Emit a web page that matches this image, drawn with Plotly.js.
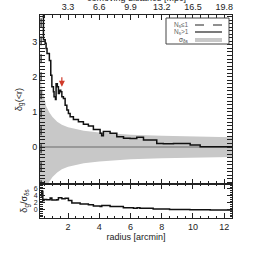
<!DOCTYPE html>
<html><head><meta charset="utf-8">
<script src="https://cdn.plot.ly/plotly-3.0.1.min.js"></script>
<style>body{margin:0;padding:0;background:#fff}#c{width:258px;height:258px}</style>
</head><body><div id="c"></div>
<script>
// main panel: delta_g(<r), N_s>1
const rMain = [0.40,0.42,0.53,0.59,0.65,0.78,0.80,0.89,0.96,1.06,1.10,1.19,1.23,1.31,1.38,1.44,1.53,1.60,1.70,1.81,1.92,2.02,2.13,2.34,2.66,2.98,3.30,3.62,4.05,4.15,4.26,4.69,5.12,5.55,5.97,6.40,6.83,7.68,8.10,8.75,9.18,9.82,10.46,11.10,11.95,12.50];
const dMain = [4.30,3.05,2.95,2.80,2.66,2.66,2.46,2.04,1.71,1.57,1.43,1.35,1.80,1.71,1.52,1.61,1.57,1.43,1.38,1.19,1.05,0.95,0.86,0.78,0.72,0.65,0.60,0.50,0.39,0.32,0.44,0.39,0.29,0.25,0.24,0.28,0.20,0.10,0.09,0.10,0.10,0.06,0.01,0.01,0.01,-0.01];
// N_s<=1 (dashed)
const rLow = [0.27,0.27];
const dLow = [-1.2,4.0];
// sigma band
const rSig = [0.20,0.30,0.40,0.50,0.60,0.80,1.00,1.30,1.60,2.00,2.50,3.00,4.00,5.00,6.00,8.00,10.00,12.50];
const sig  = [1.95,1.75,1.50,1.30,1.15,0.98,0.85,0.72,0.63,0.56,0.50,0.46,0.41,0.38,0.35,0.32,0.30,0.28];
// lower panel: delta_g / sigma
const rRat = [0.25,0.31,0.38,0.46,0.63,0.85,0.96,1.28,1.38,1.60,1.81,2.02,2.24,2.77,3.30,3.62,4.05,4.16,4.69,5.54,6.19,6.42,6.60,7.45,8.50,9.80,11.10,12.50];
const vRat = [4.0,5.3,2.7,3.0,2.9,3.4,2.8,2.9,3.5,3.2,3.3,2.7,2.0,1.7,1.5,1.1,0.95,1.25,1.0,0.6,0.45,0.65,0.5,0.25,0.15,0.05,0.0,-0.05];
// top axis
const topTicks = [3.3,6.6,9.9,13.2,16.5,19.8];
const mpcPerArcmin = 1.65;
const arrowR = 1.6, arrowD = 1.71;

const F = {family:'Liberation Sans, Arial, sans-serif', size:9, color:'#222'};
const LF = {family:F.family, size:6.5, color:'#666'};
const sigNeg = sig.map(v=>-v);
const traces = [
 {x:rSig, y:sig, mode:'lines', line:{width:0, color:'#c8c8c8'}, hoverinfo:'skip', xaxis:'x', yaxis:'y'},
 {x:rSig, y:sigNeg, mode:'lines', fill:'tonexty', fillcolor:'#c8c8c8', line:{width:0,color:'#c8c8c8'}, xaxis:'x', yaxis:'y'},
 {x:[0.2,12.5], y:[0,0], mode:'lines', line:{color:'#8a8a8a', width:1.5}, xaxis:'x', yaxis:'y'},
 {x:rLow, y:dLow, mode:'lines', line:{color:'#222', width:1.2, dash:'dash'}, xaxis:'x', yaxis:'y'},
 {x:rMain, y:dMain, mode:'lines', line:{color:'#111', width:1.5, shape:'hv'}, xaxis:'x', yaxis:'y'},
 {x:rRat, y:vRat, mode:'lines', line:{color:'#111', width:1.5, shape:'hv'}, xaxis:'x2', yaxis:'y2'},
 {x:[rMain[0]*mpcPerArcmin], y:[null], xaxis:'x3', yaxis:'y', mode:'lines', showlegend:false}
];
const ax = {showline:true, linecolor:'#222', linewidth:1, ticks:'inside', ticklen:5, tickcolor:'#222', mirror:'allticks', showgrid:false, zeroline:false, tickfont:F};
const px = p => (p-40)/192, py = p => (218-p)/203;
const layout = {
 width:258, height:258, showlegend:false, paper_bgcolor:'#fff', plot_bgcolor:'#fff',
 margin:{l:40, r:26, t:15, b:40}, font:F,
 xaxis:Object.assign({}, ax, {domain:[0,1], range:[0.2,12.5], anchor:'y', showticklabels:false, dtick:2, tick0:0, minor:{dtick:0.5, ticks:'inside', ticklen:2.5, tickcolor:'#222'}}),
 xaxis3:Object.assign({}, ax, {overlaying:'x', side:'top', anchor:'y', range:[0.2*mpcPerArcmin,12.5*mpcPerArcmin], tickvals:topTicks, ticktext:topTicks.map(v=>v.toFixed(1)), mirror:false, ticklabelstandoff:0, minor:{dtick:0.825, ticks:'inside', ticklen:2.5, tickcolor:'#222'}}),
 yaxis:Object.assign({}, ax, {domain:[0.1675,1], range:[-1.05,3.75], tickvals:[0,1,2,3], anchor:'x', minor:{dtick:0.1, ticks:'inside', ticklen:2.5, tickcolor:'#222'},
   title:{text:'δ<sub>g</sub>(&lt;r)', font:F, standoff:8}}),
 xaxis2:Object.assign({}, ax, {domain:[0,1], range:[0.2,12.5], anchor:'y2', dtick:2, tick0:0, minor:{dtick:0.5, ticks:'inside', ticklen:2.5, tickcolor:'#222'},
   title:{text:'radius [arcmin]', font:F, standoff:2}}),
 yaxis2:Object.assign({}, ax, {domain:[0,0.1675], range:[-2.3,7.4], tickvals:[0,2,4,6], anchor:'x2', tickfont:{family:F.family, size:7, color:'#222'}, minor:{dtick:0.5, ticks:'inside', ticklen:2.5, tickcolor:'#222'},
   title:{text:'δ<sub>g</sub>/σ<sub>δs</sub>', font:F, standoff:4}}),
 shapes:[
  {type:'rect', xref:'paper', yref:'paper', x0:px(166), x1:px(229), y0:py(44), y1:py(18), line:{color:'#444', width:1}, fillcolor:'#fff'},
  {type:'line', xref:'paper', yref:'paper', x0:px(195), x1:px(222), y0:py(25), y1:py(25), line:{color:'#222', width:1.2, dash:'dash'}},
  {type:'line', xref:'paper', yref:'paper', x0:px(195), x1:px(222), y0:py(32), y1:py(32), line:{color:'#222', width:1.2}},
  {type:'line', xref:'paper', yref:'paper', x0:px(195), x1:px(222), y0:py(40), y1:py(40), line:{color:'#c8c8c8', width:4}}
 ],
 annotations:[
  {xref:'paper', yref:'paper', x:0.5, y:1, yshift:17, yanchor:'middle', text:'comoving distance [Mpc]', showarrow:false, font:F},
  {xref:'paper', yref:'paper', x:px(190), y:py(25), xanchor:'right', yanchor:'middle', text:'N<sub>s</sub>≤1', showarrow:false, font:LF, borderpad:0},
  {xref:'paper', yref:'paper', x:px(190), y:py(32), xanchor:'right', yanchor:'middle', text:'N<sub>s</sub>&gt;1', showarrow:false, font:LF, borderpad:0},
  {xref:'paper', yref:'paper', x:px(190), y:py(40), xanchor:'right', yanchor:'middle', text:'σ<sub>δs</sub>', showarrow:false, font:{family:F.family, size:6.5, color:'#444'}, borderpad:0},
  {xref:'x', yref:'y', x:arrowR, y:arrowD, ax:0, ay:-11, showarrow:true, arrowhead:2, arrowsize:1, arrowwidth:1.2, arrowcolor:'#d03a2a', text:''}
 ]
};
Plotly.newPlot('c', traces, layout, {staticPlot:true, displayModeBar:false});
</script></body></html>
